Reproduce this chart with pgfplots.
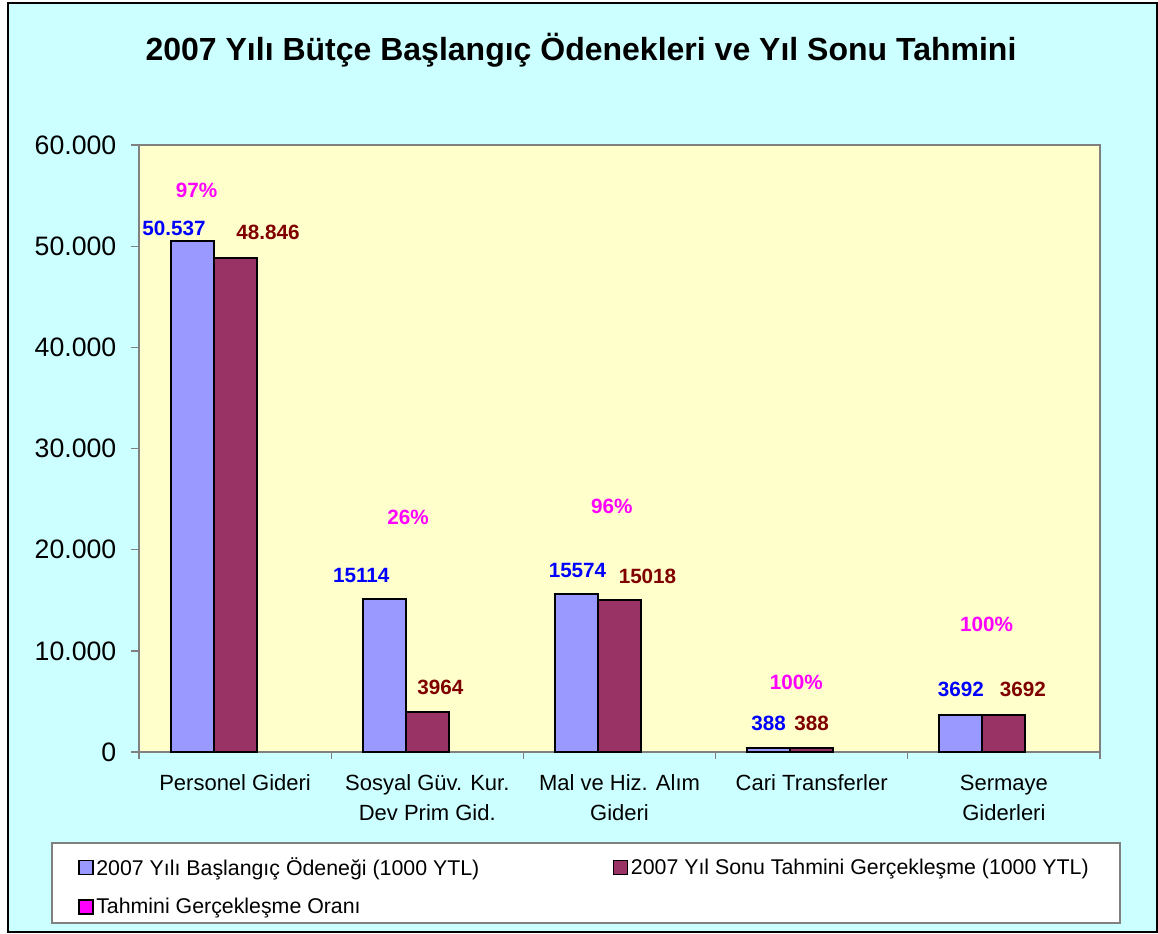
\documentclass[border=0pt]{standalone}
\usepackage{pgfplots}
\usepackage{pgfplotstable}
\pgfplotsset{compat=1.18}
\usepackage{fontspec}
\setmainfont{Liberation Sans}
\newdimen\px \px=0.75pt
\definecolor{bgcyan}{HTML}{CCFFFF}
\definecolor{plotbg}{HTML}{FFFFCC}
\definecolor{barA}{HTML}{9999FF}
\definecolor{barB}{HTML}{993366}
\definecolor{labA}{HTML}{0000FF}
\definecolor{labB}{HTML}{800000}
\definecolor{pct}{HTML}{FF00FF}
\definecolor{axgray}{HTML}{808080}

% x = category index, y = value, lab = printed label, dx/dy = label offset (px)
\pgfplotstableread{
x y lab dx dy
0 50537 50.537 -18 12
1 15114 15114 -23 24
2 15574 15574 1 24
3 388 388 0 25
4 3692 3692 0 25
}\tabA
\pgfplotstableread{
x y lab dx dy
0 48846 48.846 33 25
1 3964 3964 13 25
2 15018 15018 28 24
3 388 388 0 25
4 3692 3692 19 25
}\tabB
% percentage label positions (ratio in %)
\pgfplotstableread{
x y lab
-0.20 55550 97
0.90 23200 26
1.96 24300 96
2.92 6900 100
3.91 12650 100
}\tabP

\begin{document}
\begin{tikzpicture}
\begin{scope}[x=0.75pt,y=-0.75pt]
  \path[fill=white] (0,0) rectangle (1158,933);
  \path[fill=bgcyan, draw=black, line width=1.5pt] (8,3) rectangle (1157,932);
  \node[font=\fontsize{24}{28}\selectfont\bfseries] at (581,50) {2007 Yılı Bütçe Başlangıç Ödenekleri ve Yıl Sonu Tahmini};
  \path[fill=white, draw=axgray, line width=1.2pt] (52,843) rectangle (1120,923);
\end{scope}
\begin{axis}[
  at={(139\px,-752\px)}, anchor=south west,
  width=961\px, height=607\px, scale only axis,
  xmin=-0.5, xmax=4.5, ymin=0, ymax=60000,
  axis background/.style={fill=plotbg},
  axis line style={axgray, line width=1.5pt},
  ybar, bar width=43\px,
  xtick={0,...,4},
  xticklabels={Personel Gideri, {Sosyal Güv. Kur.\\Dev Prim Gid.}, {Mal ve Hiz. Alım\\Gideri}, Cari Transferler, {Sermaye\\Giderleri}},
  xticklabel style={align=center, font=\fontsize{16.5}{22.5}\selectfont, yshift=-7.5pt},
  major x tick style={draw=none},
  minor xtick={-0.5,0.5,...,4.5},
  tick align=outside, tick style={axgray, line width=1pt},
  major tick length=8\px, minor tick length=7\px,
  xtick pos=bottom, ytick pos=left,
  ytick={0,10000,...,60000},
  scaled y ticks=false,
  yticklabel style={font=\fontsize{20}{24}\selectfont, xshift=-7.5pt, /pgf/number format/.cd, fixed, 1000 sep={.}, assume math mode=true},
  clip=false,
  legend columns=2,
  legend cell align=left,
  legend style={at={(-0.0676,-0.1650)}, anchor=north west, draw=none, fill=none,
    font=\fontsize{16}{19}\selectfont, column sep=0pt, row sep=11.5pt},
  legend image code/.code={\draw[#1, draw=black, line width=1pt] (0pt,-5.2pt) rectangle (10.5pt,5.3pt);},
]
\addplot[fill=barA, draw=black, line width=1.5pt, bar shift=-43\px,
  nodes near coords, point meta=explicit symbolic,
  visualization depends on={\thisrow{dx}\as\dx},
  visualization depends on={\thisrow{dy}\as\dy},
  nodes near coords style={anchor=center, xshift=\dx\px, yshift=\dy\px, font=\fontsize{15.5}{18}\selectfont\bfseries, text=labA}]
  table[x=x, y=y, meta=lab]{\tabA};
\addlegendentry{\makebox[385.5pt][l]{2007 Yılı Başlangıç Ödeneği (1000 YTL)}}
\addplot[fill=barB, draw=black, line width=1.5pt, bar shift=0pt,
  nodes near coords, point meta=explicit symbolic,
  visualization depends on={\thisrow{dx}\as\dx},
  visualization depends on={\thisrow{dy}\as\dy},
  nodes near coords style={anchor=center, xshift=\dx\px, yshift=\dy\px, font=\fontsize{15.5}{18}\selectfont\bfseries, text=labB}]
  table[x=x, y=y, meta=lab]{\tabB};
\addlegendentry{2007 Yıl Sonu Tahmini Gerçekleşme (1000 YTL)}
\addlegendimage{fill=pct}
\addlegendentry{Tahmini Gerçekleşme Oranı}
\addplot[forget plot, sharp plot, draw=none, mark=none, bar shift=0pt,
  nodes near coords={\pgfplotspointmeta\%}, point meta=explicit symbolic,
  nodes near coords style={anchor=center, xshift=0pt, font=\fontsize{15.5}{18}\selectfont\bfseries, text=pct}]
  table[x=x, y=y, meta=lab]{\tabP};
\end{axis}
\end{tikzpicture}
\end{document}
